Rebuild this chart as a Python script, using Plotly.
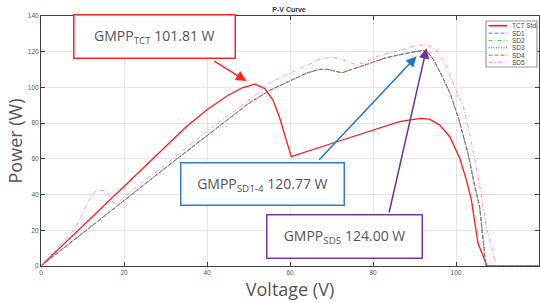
import plotly.graph_objects as go

# ---------------- data ----------------
v_tct = [0, 10, 20, 26, 30, 35, 40, 45, 48.5, 51.5, 53.9, 55.9, 57.5, 60.3, 70, 81.6, 86.4,
         89, 91.7, 93.7, 96.1, 98.5, 100.9, 102.5, 103.7, 105.3, 107.5, 120]
p_tct = [0, 22.4, 44.8, 58.2, 67.0, 78.0, 87.5, 95.5, 99.8, 101.81, 99.5, 92.9, 83, 61.2, 68.6, 77.4, 80.8,
         81.8, 82.7, 82.1, 78.9, 72.4, 60.3, 48.2, 37, 12.7, 0, 0]

v_sd14 = [0, 20, 30, 40, 50, 55, 60, 64, 67, 69, 72.5, 76, 79.2, 83, 87.2, 90.5, 92, 93,
          94.5, 96.5, 98.7, 100.7, 102.9, 104.5, 105.7, 107.2, 120]
p_sd14 = [0, 36.8, 55, 73, 91, 98.2, 103.5, 108, 110.1, 110.1, 108.2, 111, 113.5, 116.5, 118.7, 120, 120.77, 120.5,
          115.8, 107, 96, 82, 63, 45, 33, 0, 0]

v_sd5 = [0, 4, 8, 12, 13.5, 15.6, 16.5, 17.5, 18.4, 24, 28.6, 40, 51, 55, 60, 64, 67, 69.6, 72,
         74, 76, 78.4, 81, 86, 90.5, 93, 95.3, 97.7, 99.7, 101.7, 103.3, 104.5, 105.5, 107.3, 109.7, 120]
p_sd5 = [0, 10, 20.2, 38.8, 42.9, 41.8, 39.5, 35.1, 35, 46.3, 54.1, 75.5, 94.5, 102.5, 108, 112.5, 115.5, 116.8, 116.3,
         114.5, 112.5, 114.4, 117.4, 120.5, 123.5, 124.0, 120.9, 111.6, 100, 90, 74, 60, 48, 22, 0, 0]

series_names = ["TCT Std.", "SD1", "SD2", "SD3", "SD4", "SD5"]
x_ticks = [0, 20, 40, 60, 80, 100, 120]
y_ticks = [0, 20, 40, 60, 80, 100, 120, 140]

# ---------------- styles ----------------
styles = {
    "TCT Std.": dict(color="#ff1a1a", width=1.3, dash="solid"),
    "SD1": dict(color="#6b6bff", width=0.7, dash="4px,2px"),
    "SD2": dict(color="#44cc44", width=0.7, dash="4px,2px,1px,2px"),
    "SD3": dict(color="#555555", width=0.7, dash="1px,1.5px"),
    "SD4": dict(color="#b0604f", width=0.8, dash="4px,2px"),
    "SD5": dict(color="#ff77ff", width=0.9, dash="4px,2px,1px,2px"),
}
series_data = {
    "TCT Std.": (v_tct, p_tct),
    "SD1": (v_sd14, p_sd14),
    "SD2": (v_sd14, p_sd14),
    "SD3": (v_sd14, p_sd14),
    "SD4": (v_sd14, p_sd14),
    "SD5": (v_sd5, p_sd5),
}

W, H = 540, 303
L, R, T, B = 41, 1, 16, 37
PW, PH = W - L - R, H - T - B


def pxx(x):
    return (x - L) / PW


def pxy(y):
    return (H - B - y) / PH


fig = go.Figure()
for name in series_names:
    vx, vy = series_data[name]
    fig.add_trace(go.Scatter(x=vx, y=vy, mode="lines", name=name,
                             line=styles[name], showlegend=False, hoverinfo="skip"))

font_txt = "Open Sans"
font_axis = "Liberation Sans, Arial"

shapes = []
annotations = []

# ---------- manual legend (compact, MATLAB-like) ----------
shapes.append(dict(type="rect", xref="paper", yref="paper",
                   x0=pxx(486), x1=pxx(537), y0=pxy(67), y1=pxy(21),
                   line=dict(color="#9a9a9a", width=1.2), fillcolor="white", layer="above"))
leg_y = [25.7, 33.2, 40.6, 47.8, 55.1, 62.3]
for name, yy in zip(series_names, leg_y):
    st = styles[name]
    shapes.append(dict(type="line", xref="paper", yref="paper",
                       x0=pxx(488.5), x1=pxx(507.5), y0=pxy(yy), y1=pxy(yy),
                       line=dict(color=st["color"], width=max(st["width"], 1.0) if name != "TCT Std." else 1.6,
                                 dash=st["dash"]), layer="above"))
    annotations.append(dict(xref="paper", yref="paper", x=pxx(509.5), y=pxy(yy),
                            xanchor="left", yanchor="middle", showarrow=False,
                            text=name, font=dict(family=font_axis, size=6.5, color="#444")))

# ---------- callout boxes ----------
boxes = [
    ("GMPP<sub>TCT</sub> 101.81 W", "#ff2222", (72.7, 14, 235.3, 59.3)),
    ("GMPP<sub>SD1-4</sub> 120.77 W", "#2a7fc9", (180.3, 161.7, 345, 206)),
    ("GMPP<sub>SD5</sub> 124.00 W", "#7a35a8", (265.7, 214, 422.7, 259.3)),
]
for text, col, (x0, y0, x1, y1) in boxes:
    bw = 1.5
    annotations.append(dict(xref="paper", yref="paper",
                            x=pxx((x0 + x1) / 2), y=pxy((y0 + y1) / 2),
                            xanchor="center", yanchor="middle", showarrow=False,
                            text=text, font=dict(family=font_txt, size=14, color="#555"),
                            bgcolor="white", bordercolor=col, borderwidth=bw, borderpad=0,
                            width=(x1 - x0) - 2 * bw, height=(y1 - y0) - 2 * bw))

# ---------- arrows (data coordinates: tail -> tip near each GMPP) ----------
arrows = [
    ("#ff2222", (41.4, 115.3), (49.5, 103.6)),
    ("#1f77c4", (66.7, 58.6), (90.5, 117.4)),
    ("#7030a0", (83.8, 29.1), (92.9, 122.0)),
]
for col, (tx, ty), (hx, hy) in arrows:
    annotations.append(dict(x=hx, y=hy, ax=tx, ay=ty, xref="x", yref="y", axref="x", ayref="y",
                            text="", showarrow=True, arrowhead=2, arrowsize=1.4, arrowwidth=1.5,
                            arrowcolor=col, standoff=0))

axis_common = dict(showline=True, linecolor="#404040", linewidth=1, mirror="ticks",
                   ticks="inside", ticklen=4, tickcolor="#404040", tickwidth=1,
                   showgrid=True, gridcolor="#e4e4e4", gridwidth=1, zeroline=False,
                   tickfont=dict(family=font_axis, size=6.5, color="#555"))

fig.update_layout(
    width=W, height=H,
    margin=dict(l=L, r=R, t=T, b=B, autoexpand=False),
    paper_bgcolor="white", plot_bgcolor="white",
    title=dict(text="<b>P-V Curve</b>", x=pxx(289), xref="paper", xanchor="center",
               y=1 - 10 / H, yref="container", yanchor="middle",
               font=dict(family=font_axis, size=7, color="#333")),
    xaxis=dict(range=[0, 120], tickvals=x_ticks, ticktext=[str(t) for t in x_ticks],
               title=dict(text="Voltage (V)", standoff=8,
                          font=dict(family=font_txt, size=18, color="#555")),
               automargin=False, **axis_common),
    yaxis=dict(range=[0, 140], tickvals=y_ticks, ticktext=[str(t) for t in y_ticks],
               title=dict(text="Power (W)", standoff=0,
                          font=dict(family=font_txt, size=18, color="#555")),
               automargin=False, **axis_common),
    shapes=shapes, annotations=annotations, showlegend=False,
)

fig.write_html("out.html", config={"displayModeBar": False},
               post_script="document.body.style.margin='0';document.body.style.overflow='hidden';")
